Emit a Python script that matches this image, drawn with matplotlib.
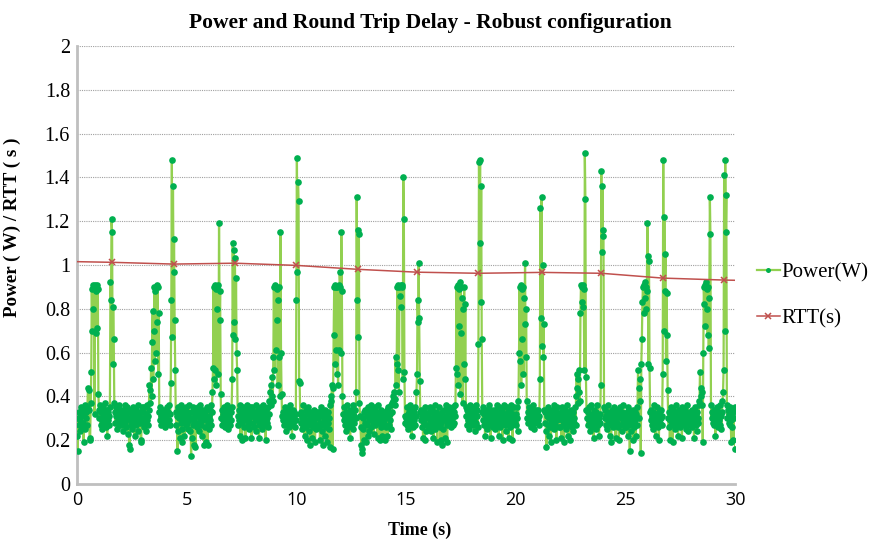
import numpy as np
import matplotlib
matplotlib.use("Agg")
import matplotlib.pyplot as plt

# Power samples, one row per second (values in hundredths of a watt)
power_rows = [
    "22 15 30 27 33 24 29 35 31 26 34 28 19 32 36 25 30 33 27 35 44 43 34 20 21 37 51 89 70 91 80 90 32 91 88 69 91 71 89 41",
    "34 30 36 27 33 29 25 35 31 28 33 37 26 30 34 22 29 33 31 27 35 92 84 121 115 55 81 66 37 33 28 35 31 25 34 29 36 27 32 30",
    "31 27 34 29 24 33 30 36 28 32 26 35 30 23 33 18 16 29 34 27 31 25 35 28 32 22 30 34 27 33 29 36 24 31 28 33 20 19 30 35",
    "28 33 26 35 30 24 32 29 36 27 31 34 45 43 37 53 40 65 79 48 70 90 56 88 60 91 74 90 50 78 33 29 35 31 27 33 30 34 28 32",
    "30 26 34 31 28 35 33 29 36 27 32 46 84 148 67 136 97 112 75 52 33 27 31 15 24 35 30 21 33 28 36 25 19 31 34 29 22 32 27 35",
    "33 28 25 31 36 29 24 33 13 21 30 27 35 18 29 32 17 34 26 31 35 28 33 24 30 36 27 32 22 29 34 31 18 26 33 19 30 35 18 28",
    "31 25 34 29 36 27 33 42 53 90 48 91 52 89 45 90 80 91 50 119 75 88 41 30 34 27 32 29 35 31 26 33 28 36 30 25 34 29 31 27",
    "33 29 35 48 110 68 107 74 103 66 94 60 52 31 27 34 29 36 22 32 28 20 35 30 33 26 31 21 34 29 36 27 32 25 30 35 28 33 21 31",
    "35 28 32 26 33 30 36 24 31 29 34 27 21 33 30 35 28 32 25 36 29 33 27 31 20 34 30 28 35 26 32 38 42 45 36 40 49 38 58 90",
    "52 91 61 90 75 89 45 84 58 90 40 115 60 41 31 29 33 30 27 35 31 24 32 28 34 30 26 33 29 36 27 31 22 34 28 30 33 26 32 29",
    "84 149 97 138 129 47 46 32 28 33 25 30 36 27 31 22 29 34 26 20 32 28 35 24 30 18 27 33 29 21 31 26 34 28 19 30 25 33 27 31",
    "30 26 33 20 28 35 24 31 18 27 33 29 22 34 26 31 19 28 33 25 30 17 36 38 40 45 16 44 68 90 55 91 61 90 50 90 45 91 61 97",
    "90 60 115 88 40 32 29 35 27 31 24 33 30 36 26 32 28 34 21 30 27 33 29 36 25 31 28 34 30 42 131 84 116 67 114 37 31 26 18 14",
    "16 30 25 33 20 28 34 19 31 27 22 35 29 24 33 30 36 26 32 28 34 23 30 35 27 31 29 33 21 36 28 32 20 30 34 26 33 22 29 31",
    "28 33 20 31 26 34 22 30 35 27 32 29 36 25 33 37 40 38 42 36 39 58 45 55 90 52 91 42 90 86 91 81 90 91 48 140 121 51 31 28",
    "30 35 27 32 25 33 29 36 28 31 22 34 30 26 33 29 35 27 31 42 50 84 74 101 76 47 33 29 34 26 31 21 33 28 20 35 30 24 32 27",
    "31 26 33 29 35 24 30 27 34 28 21 32 36 25 30 33 27 19 31 29 35 26 32 20 28 33 18 30 25 34 29 21 31 36 27 19 33 28 30 35",
    "29 34 26 32 30 35 27 33 28 31 36 53 90 50 91 45 89 72 92 41 90 69 85 37 80 55 90 48 82 35 31 27 34 29 33 25 30 36 28 32",
    "30 35 27 33 29 24 32 36 28 31 34 26 64 147 110 148 83 136 66 33 29 35 27 32 22 30 34 28 25 33 31 36 27 30 21 34 29 32 26 33",
    "28 34 30 25 33 29 36 27 31 22 35 30 26 33 28 34 20 31 29 36 27 32 24 30 35 28 33 21 31 26 34 29 36 27 20 32 30 35 28 31",
    "32 27 35 30 24 38 60 90 56 91 45 89 66 90 50 85 73 101 58 80 38 30 33 28 35 29 31 26 34 30 27 33 36 29 25 32 28 34 30 33",
    "29 34 27 31 48 126 76 131 63 100 58 73 34 28 33 24 17 31 27 35 22 30 26 33 19 29 34 28 31 25 36 30 27 33 20 29 35 31 26 32",
    "30 26 33 21 29 35 27 32 19 30 34 25 31 28 36 22 30 27 33 20 29 34 26 31 24 33 28 30 35 27 40 50 44 48 37 42 52 38 78 91",
    "90 83 91 81 89 52 151 130 49 34 30 27 33 29 35 24 31 28 36 26 32 30 21 34 28 31 25 33 29 36 27 30 22 32 28 45 143 106 136 113",
    "116 35 30 34 27 31 25 33 29 36 28 22 32 30 19 34 27 31 26 35 29 33 21 30 28 34 26 32 20 31 35 27 30 24 33 29 36 28 31 26",
    "31 26 33 29 22 35 27 30 15 33 24 31 28 34 20 30 26 33 29 22 32 27 35 52 44 30 48 38 14 55 66 83 90 78 91 85 92 80 90 88",
    "119 104 55 102 53 33 29 34 27 31 25 33 30 36 28 22 32 29 35 26 31 20 33 28 30 34 27 31 50 148 70 122 88 105 56 87 68 43 30 26",
    "33 20 29 35 27 31 19 34 28 30 25 33 29 36 27 31 22 30 34 28 26 33 30 21 35 29 32 27 31 34 25 30 28 36 24 32 29 33 27 31",
    "30 26 34 28 32 21 29 35 27 31 24 33 30 28 36 38 51 40 44 36 42 19 60 90 82 91 72 92 80 89 68 90 62 85 131 114 36 30 33 28",
    "31 27 34 29 22 32 28 35 30 26 33 29 36 27 31 25 33 38 42 52 141 70 148 115 132 36 30 34 28 32 27 35 29 19 31 26 33 20 30 35",
    "16",
]

# Round trip time samples
rtt_time = [0, 1.6, 4.4, 7.2, 10.0, 12.8, 15.5, 18.3, 21.2, 23.9, 26.7, 29.5, 30]
rtt_value = [1.015, 1.012, 1.004, 1.008, 0.998, 0.980, 0.967, 0.962, 0.966, 0.962, 0.940, 0.931, 0.930]

power_t = []
power_w = []
for sec, row in enumerate(power_rows):
    vals = [int(v) / 100 for v in row.split()]
    n = len(vals)
    power_t.extend(sec + np.arange(n) / n)
    power_w.extend(vals)

serif = "Liberation Serif"

fig = plt.figure(figsize=(8.72, 5.4), dpi=100)
ax = fig.add_axes([0.0883, 0.1037, 0.7547, 0.8113])

ax.plot(power_t, power_w, color="#92D050", linewidth=1.6, marker="o",
        markersize=4.8, markerfacecolor="#00B050", markeredgecolor="#00B050",
        markeredgewidth=0, label="Power(W)", zorder=3)
ax.plot(rtt_time, rtt_value, color="#C0504D", linewidth=1.1, marker="x",
        markersize=5, markeredgewidth=1.1, markevery=slice(1, -1),
        label="RTT(s)", zorder=4)

ax.set_xlim(0, 30)
ax.set_ylim(0, 2)
ax.set_xticks(range(0, 31, 5))
ax.set_yticks(np.arange(0, 2.01, 0.2))
ax.set_yticklabels(["0", "0.2", "0.4", "0.6", "0.8", "1", "1.2", "1.4", "1.6", "1.8", "2"],
                   fontfamily=serif, fontsize=14.5)
for lab in ax.get_xticklabels():
    lab.set_fontfamily("Open Sans")
    lab.set_fontsize(13)
ax.tick_params(length=0, pad=5)
ax.yaxis.grid(True, linestyle=(0, (1, 1)), color="#A0A0A0", linewidth=0.8)
ax.set_axisbelow(True)
for side in ("top", "right"):
    ax.spines[side].set_visible(False)
for side in ("left", "bottom"):
    ax.spines[side].set_color("#BFBFBF")
    ax.spines[side].set_linewidth(2)

ax.set_title("Power and Round Trip Delay - Robust configuration", x=0.537,
             fontfamily=serif, fontweight="bold", fontsize=15.5, pad=13)
ax.set_xlabel("Time (s)", fontfamily=serif, fontweight="bold", fontsize=13)
ax.set_ylabel("Power ( W) / RTT ( s )", fontfamily=serif, fontweight="bold", fontsize=13.7)
ax.xaxis.set_label_coords(0.52, -0.085)
ax.yaxis.set_label_coords(-0.085, 0.585)

leg = ax.legend(loc="center left", bbox_to_anchor=(1.033, 0.43),
                bbox_transform=ax.transAxes, frameon=False,
                prop={"family": serif, "size": 15}, handlelength=1.1,
                handletextpad=0.1, labelspacing=1.3, borderpad=0,
                borderaxespad=0, markerscale=0.75)

fig.savefig("out.png", dpi=100)
